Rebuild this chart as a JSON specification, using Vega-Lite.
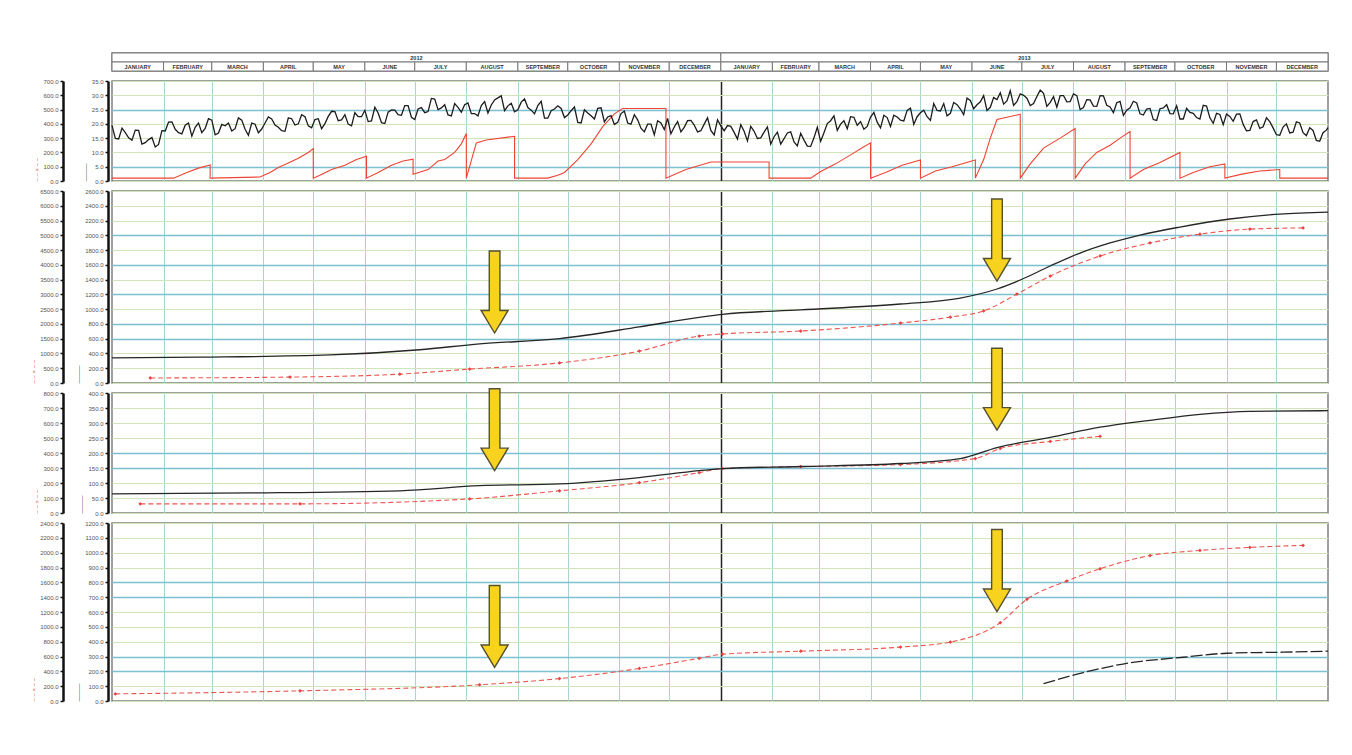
{
 "$schema": "https://vega.github.io/schema/vega-lite/v6.json",
 "padding": {"left": 29, "top": 51, "right": 5, "bottom": 5},
 "background": "white",
 "spacing": 10,
 "bounds": "flush",
 "config": {
  "view": {"stroke": "#808080", "strokeWidth": 1.5},
  "axis": {"labelFont": "Liberation Sans", "titleFont": "Liberation Sans", "labelFontSize": 6, "labelColor": "#555555", "tickColor": "#111111", "tickSize": 3, "tickWidth": 1.5, "domainColor": "#111111", "domainWidth": 2.5, "labelPadding": 2, "titleFontSize": 6, "titleFontWeight": "normal"}
 },
 "datasets": {
  "hdr": [
   {"r": "y", "lab": "2012", "s": 0, "e": 366}, {"r": "y", "lab": "2013", "s": 366, "e": 731},
   {"r": "m", "lab": "JANUARY", "s": 0, "e": 31}, {"r": "m", "lab": "FEBRUARY", "s": 31, "e": 60}, {"r": "m", "lab": "MARCH", "s": 60, "e": 91}, {"r": "m", "lab": "APRIL", "s": 91, "e": 121}, {"r": "m", "lab": "MAY", "s": 121, "e": 152}, {"r": "m", "lab": "JUNE", "s": 152, "e": 182}, {"r": "m", "lab": "JULY", "s": 182, "e": 213}, {"r": "m", "lab": "AUGUST", "s": 213, "e": 244}, {"r": "m", "lab": "SEPTEMBER", "s": 244, "e": 274}, {"r": "m", "lab": "OCTOBER", "s": 274, "e": 305}, {"r": "m", "lab": "NOVEMBER", "s": 305, "e": 335}, {"r": "m", "lab": "DECEMBER", "s": 335, "e": 366},
   {"r": "m", "lab": "JANUARY", "s": 366, "e": 397}, {"r": "m", "lab": "FEBRUARY", "s": 397, "e": 425}, {"r": "m", "lab": "MARCH", "s": 425, "e": 456}, {"r": "m", "lab": "APRIL", "s": 456, "e": 486}, {"r": "m", "lab": "MAY", "s": 486, "e": 517}, {"r": "m", "lab": "JUNE", "s": 517, "e": 547}, {"r": "m", "lab": "JULY", "s": 547, "e": 578}, {"r": "m", "lab": "AUGUST", "s": 578, "e": 609}, {"r": "m", "lab": "SEPTEMBER", "s": 609, "e": 639}, {"r": "m", "lab": "OCTOBER", "s": 639, "e": 670}, {"r": "m", "lab": "NOVEMBER", "s": 670, "e": 700}, {"r": "m", "lab": "DECEMBER", "s": 700, "e": 731}
  ],
  "temp": [
   {"d":0,"v":19.5},{"d":2,"v":14.9},{"d":4,"v":14.7},{"d":6,"v":18.5},{"d":8,"v":16.9},{"d":10,"v":15.1},{"d":12,"v":14.3},{"d":14,"v":17.8},{"d":16,"v":17.7},{"d":18,"v":12.9},{"d":20,"v":13.4},{"d":22,"v":14.5},{"d":24,"v":15.2},{"d":26,"v":11.9},{"d":28,"v":12.8},{"d":30,"v":17.6},{"d":32,"v":17.5},{"d":34,"v":20.6},{"d":36,"v":20.7},{"d":38,"v":18.1},{"d":40,"v":16.9},{"d":42,"v":16.5},{"d":44,"v":19.5},{"d":46,"v":20.3},{"d":48,"v":15.7},{"d":50,"v":18.8},{"d":52,"v":20.3},{"d":54,"v":16.9},{"d":56,"v":18.4},{"d":58,"v":21.8},{"d":60,"v":21.3},{"d":62,"v":16.2},{"d":64,"v":16.8},{"d":66,"v":19.8},{"d":68,"v":19.3},{"d":70,"v":20.3},{"d":72,"v":17.5},{"d":74,"v":18.3},{"d":76,"v":22.1},{"d":78,"v":21.3},{"d":80,"v":18.1},{"d":82,"v":16.0},{"d":84,"v":20.3},{"d":86,"v":19.9},{"d":88,"v":16.9},{"d":90,"v":18.2},{"d":92,"v":20.3},{"d":94,"v":22.4},{"d":96,"v":21.7},{"d":98,"v":19.6},{"d":100,"v":18.8},{"d":102,"v":17.6},{"d":104,"v":17.4},{"d":106,"v":22.1},{"d":108,"v":21.8},{"d":110,"v":19.6},{"d":112,"v":20.0},{"d":114,"v":23.2},{"d":116,"v":22.5},{"d":118,"v":19.3},{"d":120,"v":18.6},{"d":122,"v":21.5},{"d":124,"v":21.8},{"d":126,"v":18.3},{"d":128,"v":20.1},{"d":130,"v":22.6},{"d":132,"v":24.4},{"d":134,"v":24.3},{"d":136,"v":21.1},{"d":138,"v":21.4},{"d":140,"v":23.2},{"d":142,"v":19.9},{"d":144,"v":19.3},{"d":146,"v":23.9},{"d":148,"v":22.5},{"d":150,"v":22.5},{"d":152,"v":24.7},{"d":154,"v":20.8},{"d":156,"v":21.0},{"d":158,"v":25.8},{"d":160,"v":23.8},{"d":162,"v":20.4},{"d":164,"v":20.1},{"d":166,"v":24.1},{"d":168,"v":24.9},{"d":170,"v":24.8},{"d":172,"v":23.2},{"d":174,"v":23.0},{"d":176,"v":26.4},{"d":178,"v":26.4},{"d":180,"v":22.3},{"d":182,"v":21.5},{"d":184,"v":25.2},{"d":186,"v":25.7},{"d":188,"v":23.9},{"d":190,"v":24.3},{"d":192,"v":28.9},{"d":194,"v":28.7},{"d":196,"v":25.0},{"d":198,"v":25.6},{"d":200,"v":26.7},{"d":202,"v":23.1},{"d":204,"v":22.8},{"d":206,"v":27.1},{"d":208,"v":25.8},{"d":210,"v":24.1},{"d":212,"v":26.7},{"d":214,"v":27.3},{"d":216,"v":23.6},{"d":218,"v":23.6},{"d":220,"v":22.8},{"d":222,"v":26.4},{"d":224,"v":27.8},{"d":226,"v":23.8},{"d":228,"v":26.6},{"d":230,"v":28.4},{"d":232,"v":29.1},{"d":234,"v":29.8},{"d":236,"v":24.6},{"d":238,"v":26.3},{"d":240,"v":27.2},{"d":242,"v":24.2},{"d":244,"v":24.9},{"d":246,"v":27.6},{"d":248,"v":28.7},{"d":250,"v":25.7},{"d":252,"v":24.8},{"d":254,"v":23.5},{"d":256,"v":26.4},{"d":258,"v":27.9},{"d":260,"v":22.0},{"d":262,"v":22.0},{"d":264,"v":24.6},{"d":266,"v":25.2},{"d":268,"v":26.3},{"d":270,"v":25.4},{"d":272,"v":22.2},{"d":274,"v":23.1},{"d":276,"v":24.6},{"d":278,"v":25.9},{"d":280,"v":20.5},{"d":282,"v":20.3},{"d":284,"v":24.9},{"d":286,"v":23.8},{"d":288,"v":22.8},{"d":290,"v":21.7},{"d":292,"v":25.4},{"d":294,"v":25.6},{"d":296,"v":20.7},{"d":298,"v":22.4},{"d":300,"v":22.9},{"d":302,"v":19.8},{"d":304,"v":20.5},{"d":306,"v":23.6},{"d":308,"v":24.5},{"d":310,"v":20.3},{"d":312,"v":19.9},{"d":314,"v":23.2},{"d":316,"v":21.4},{"d":318,"v":18.5},{"d":320,"v":17.2},{"d":322,"v":19.9},{"d":324,"v":19.9},{"d":326,"v":16.2},{"d":328,"v":21.1},{"d":330,"v":20.3},{"d":332,"v":18.0},{"d":334,"v":21.9},{"d":336,"v":16.5},{"d":338,"v":18.9},{"d":340,"v":20.8},{"d":342,"v":17.2},{"d":344,"v":18.8},{"d":346,"v":21.1},{"d":348,"v":21.2},{"d":350,"v":19.6},{"d":352,"v":17.2},{"d":354,"v":17.6},{"d":356,"v":19.9},{"d":358,"v":22.1},{"d":360,"v":17.7},{"d":362,"v":16.1},{"d":364,"v":21.4},{"d":366,"v":19.3},{"d":368,"v":17.6},{"d":370,"v":19.4},{"d":372,"v":19.1},{"d":374,"v":17.0},{"d":376,"v":14.7},{"d":378,"v":19.7},{"d":380,"v":17.4},{"d":382,"v":14.0},{"d":384,"v":19.1},{"d":386,"v":17.4},{"d":388,"v":14.9},{"d":390,"v":15.1},{"d":392,"v":17.1},{"d":394,"v":18.9},{"d":396,"v":12.9},{"d":398,"v":15.5},{"d":400,"v":17.1},{"d":402,"v":12.9},{"d":404,"v":14.8},{"d":406,"v":16.8},{"d":408,"v":17.2},{"d":410,"v":13.7},{"d":412,"v":12.3},{"d":414,"v":16.7},{"d":416,"v":14.3},{"d":418,"v":12.2},{"d":420,"v":12.1},{"d":422,"v":15.1},{"d":424,"v":18.8},{"d":426,"v":13.9},{"d":428,"v":16.9},{"d":430,"v":20.1},{"d":432,"v":21.1},{"d":434,"v":22.8},{"d":436,"v":17.7},{"d":438,"v":19.9},{"d":440,"v":21.1},{"d":442,"v":18.3},{"d":444,"v":22.5},{"d":446,"v":22.3},{"d":448,"v":19.5},{"d":450,"v":20.8},{"d":452,"v":18.1},{"d":454,"v":19.1},{"d":456,"v":22.4},{"d":458,"v":24.0},{"d":460,"v":20.6},{"d":462,"v":18.6},{"d":464,"v":23.0},{"d":466,"v":22.2},{"d":468,"v":19.1},{"d":470,"v":23.0},{"d":472,"v":22.4},{"d":474,"v":21.3},{"d":476,"v":21.0},{"d":478,"v":24.7},{"d":480,"v":25.5},{"d":482,"v":19.8},{"d":484,"v":22.5},{"d":486,"v":23.9},{"d":488,"v":24.8},{"d":490,"v":22.5},{"d":492,"v":21.2},{"d":494,"v":27.1},{"d":496,"v":24.7},{"d":498,"v":24.5},{"d":500,"v":27.1},{"d":502,"v":22.8},{"d":504,"v":23.7},{"d":506,"v":27.5},{"d":508,"v":26.7},{"d":510,"v":25.2},{"d":512,"v":23.2},{"d":514,"v":29.0},{"d":516,"v":28.2},{"d":518,"v":25.3},{"d":520,"v":26.7},{"d":522,"v":27.7},{"d":524,"v":29.9},{"d":526,"v":24.7},{"d":528,"v":25.8},{"d":530,"v":29.2},{"d":532,"v":28.5},{"d":534,"v":30.9},{"d":536,"v":26.9},{"d":538,"v":28.0},{"d":540,"v":31.6},{"d":542,"v":26.5},{"d":544,"v":27.8},{"d":546,"v":30.5},{"d":548,"v":30.0},{"d":550,"v":29.0},{"d":552,"v":26.4},{"d":554,"v":27.1},{"d":556,"v":29.6},{"d":558,"v":31.8},{"d":560,"v":30.7},{"d":562,"v":26.1},{"d":564,"v":27.5},{"d":566,"v":29.5},{"d":568,"v":25.8},{"d":570,"v":29.9},{"d":572,"v":29.9},{"d":574,"v":27.7},{"d":576,"v":27.8},{"d":578,"v":30.5},{"d":580,"v":29.9},{"d":582,"v":25.0},{"d":584,"v":25.7},{"d":586,"v":28.5},{"d":588,"v":28.4},{"d":590,"v":26.2},{"d":592,"v":26.1},{"d":594,"v":29.9},{"d":596,"v":29.8},{"d":598,"v":26.5},{"d":600,"v":25.9},{"d":602,"v":23.9},{"d":604,"v":27.4},{"d":606,"v":27.9},{"d":608,"v":23.0},{"d":610,"v":24.8},{"d":612,"v":25.6},{"d":614,"v":27.9},{"d":616,"v":27.3},{"d":618,"v":23.5},{"d":620,"v":23.1},{"d":622,"v":25.2},{"d":624,"v":25.4},{"d":626,"v":21.5},{"d":628,"v":21.2},{"d":630,"v":25.3},{"d":632,"v":25.6},{"d":634,"v":26.7},{"d":636,"v":23.6},{"d":638,"v":23.5},{"d":640,"v":26.3},{"d":642,"v":21.7},{"d":644,"v":21.7},{"d":646,"v":25.4},{"d":648,"v":24.0},{"d":650,"v":23.7},{"d":652,"v":22.2},{"d":654,"v":21.7},{"d":656,"v":26.5},{"d":658,"v":26.2},{"d":660,"v":22.1},{"d":662,"v":20.2},{"d":664,"v":23.7},{"d":666,"v":23.3},{"d":668,"v":19.7},{"d":670,"v":23.4},{"d":672,"v":22.6},{"d":674,"v":20.9},{"d":676,"v":23.4},{"d":678,"v":23.5},{"d":680,"v":19.8},{"d":682,"v":17.6},{"d":684,"v":17.7},{"d":686,"v":20.8},{"d":688,"v":21.4},{"d":690,"v":18.4},{"d":692,"v":19.0},{"d":694,"v":22.1},{"d":696,"v":20.8},{"d":698,"v":18.6},{"d":700,"v":16.2},{"d":702,"v":16.0},{"d":704,"v":18.9},{"d":706,"v":20.0},{"d":708,"v":16.8},{"d":710,"v":17.1},{"d":712,"v":20.7},{"d":714,"v":20.3},{"d":716,"v":16.9},{"d":718,"v":15.9},{"d":720,"v":18.6},{"d":722,"v":17.7},{"d":724,"v":14.2},{"d":726,"v":13.9},{"d":728,"v":16.9},{"d":730,"v":17.8},{"d":731,"v":18.7}
  ],
  "saw": [
   {"i":1,"d":0,"v":20},{"i":2,"d":37,"v":20},{"i":3,"d":45,"v":60},{"i":4,"d":52,"v":90},{"i":5,"d":59,"v":113},{"i":6,"d":59,"v":20},{"i":7,"d":89,"v":28},{"i":8,"d":95,"v":60},{"i":9,"d":100,"v":95},{"i":10,"d":105,"v":120},{"i":11,"d":112,"v":160},{"i":12,"d":118,"v":200},{"i":13,"d":121,"v":227},{"i":14,"d":121,"v":20},{"i":15,"d":125,"v":40},{"i":16,"d":132,"v":80},{"i":17,"d":140,"v":110},{"i":18,"d":147,"v":150},{"i":19,"d":153,"v":173},{"i":20,"d":153,"v":20},{"i":21,"d":160,"v":60},{"i":22,"d":168,"v":110},{"i":23,"d":175,"v":140},{"i":24,"d":181,"v":153},{"i":25,"d":181,"v":47},{"i":26,"d":190,"v":80},{"i":27,"d":196,"v":140},{"i":28,"d":200,"v":150},{"i":29,"d":206,"v":200},{"i":30,"d":210,"v":260},{"i":31,"d":213,"v":333},{"i":32,"d":213,"v":20},{"i":33,"d":219,"v":267},{"i":34,"d":225,"v":287},{"i":35,"d":242,"v":313},{"i":36,"d":242,"v":20},{"i":37,"d":262,"v":20},{"i":38,"d":268,"v":40},{"i":39,"d":272,"v":60},{"i":40,"d":280,"v":150},{"i":41,"d":288,"v":260},{"i":42,"d":295,"v":380},{"i":43,"d":302,"v":470},{"i":44,"d":307,"v":507},{"i":45,"d":333,"v":507},{"i":46,"d":333,"v":20},{"i":47,"d":345,"v":80},{"i":48,"d":360,"v":133},{"i":49,"d":395,"v":133},{"i":50,"d":395,"v":20},{"i":51,"d":420,"v":20},{"i":52,"d":426,"v":67},{"i":53,"d":435,"v":120},{"i":54,"d":445,"v":190},{"i":55,"d":452,"v":240},{"i":56,"d":456,"v":267},{"i":57,"d":456,"v":20},{"i":58,"d":465,"v":60},{"i":59,"d":475,"v":110},{"i":60,"d":486,"v":147},{"i":61,"d":486,"v":20},{"i":62,"d":495,"v":70},{"i":63,"d":505,"v":100},{"i":64,"d":519,"v":147},{"i":65,"d":519,"v":20},{"i":66,"d":524,"v":150},{"i":67,"d":528,"v":300},{"i":68,"d":532,"v":430},{"i":69,"d":546,"v":467},{"i":70,"d":546,"v":20},{"i":71,"d":552,"v":120},{"i":72,"d":560,"v":230},{"i":73,"d":570,"v":300},{"i":74,"d":579,"v":367},{"i":75,"d":579,"v":20},{"i":76,"d":585,"v":120},{"i":77,"d":592,"v":200},{"i":78,"d":600,"v":250},{"i":79,"d":606,"v":300},{"i":80,"d":612,"v":347},{"i":81,"d":612,"v":20},{"i":82,"d":620,"v":80},{"i":83,"d":630,"v":130},{"i":84,"d":642,"v":200},{"i":85,"d":642,"v":20},{"i":86,"d":650,"v":60},{"i":87,"d":660,"v":100},{"i":88,"d":669,"v":120},{"i":89,"d":669,"v":20},{"i":90,"d":680,"v":50},{"i":91,"d":690,"v":70},{"i":92,"d":702,"v":80},{"i":93,"d":702,"v":20},{"i":94,"d":731,"v":20}
  ],
  "p2k": [{"d":0,"v":340},{"d":53,"v":350},{"d":131,"v":380},{"d":185,"v":450},{"d":221,"v":530},{"d":269,"v":600},{"d":317,"v":760},{"d":353,"v":890},{"d":367,"v":930},{"d":414,"v":990},{"d":474,"v":1070},{"d":510,"v":1150},{"d":532,"v":1273},{"d":546,"v":1395},{"d":564,"v":1584},{"d":582,"v":1760},{"d":600,"v":1896},{"d":618,"v":2004},{"d":642,"v":2112},{"d":672,"v":2221},{"d":702,"v":2288},{"d":731,"v":2315}],
  "p2r": [{"d":23,"v":170},{"d":107,"v":200},{"d":173,"v":300},{"d":215,"v":470},{"d":269,"v":680},{"d":317,"v":1080},{"d":353,"v":1590},{"d":367,"v":1660},{"d":414,"v":1760},{"d":474,"v":2030},{"d":504,"v":2230},{"d":524,"v":2440},{"d":544,"v":3010},{"d":564,"v":3620},{"d":594,"v":4300},{"d":624,"v":4740},{"d":654,"v":5040},{"d":684,"v":5210},{"d":716,"v":5250}],
  "p3k": [{"d":0,"v":64},{"d":83,"v":67},{"d":173,"v":74},{"d":221,"v":91},{"d":269,"v":97},{"d":317,"v":118},{"d":353,"v":141},{"d":367,"v":148},{"d":414,"v":155},{"d":474,"v":165},{"d":510,"v":181},{"d":532,"v":218},{"d":564,"v":252},{"d":594,"v":286},{"d":624,"v":309},{"d":654,"v":329},{"d":684,"v":339},{"d":731,"v":341}],
  "p3r": [{"d":17,"v":61},{"d":113,"v":61},{"d":215,"v":94},{"d":269,"v":148},{"d":317,"v":202},{"d":353,"v":269},{"d":367,"v":296},{"d":414,"v":309},{"d":474,"v":323},{"d":519,"v":363},{"d":534,"v":430},{"d":564,"v":477},{"d":594,"v":511}],
  "p4k": [{"d":560,"v":117},{"d":584,"v":192},{"d":610,"v":254},{"d":644,"v":295},{"d":670,"v":322},{"d":704,"v":329},{"d":731,"v":336}],
  "p4r": [{"d":2,"v":96},{"d":113,"v":137},{"d":221,"v":219},{"d":269,"v":302},{"d":317,"v":439},{"d":353,"v":576},{"d":367,"v":631},{"d":414,"v":672},{"d":474,"v":727},{"d":504,"v":795},{"d":534,"v":1056},{"d":550,"v":1371},{"d":574,"v":1618},{"d":594,"v":1783},{"d":624,"v":1961},{"d":654,"v":2030},{"d":684,"v":2071},{"d":716,"v":2098}],
  "arrows": [{"p":2,"d":230,"v":677},{"p":2,"d":532,"v":1381},{"p":3,"d":230,"v":141},{"p":3,"d":532,"v":276},{"p":4,"d":230,"v":226},{"p":4,"d":532,"v":603}]
 },
 "vconcat": [
  {
   "width": 1216, "height": 18,
   "data": {"name": "hdr"},
   "encoding": {
    "x": {"field": "s", "type": "quantitative", "scale": {"domain": [0, 731], "nice": false, "zero": false}, "axis": null},
    "y": {"field": "r", "type": "ordinal", "scale": {"domain": ["y", "m"], "paddingInner": 0, "paddingOuter": 0}, "axis": null}
   },
   "layer": [
    {"mark": {"type": "rect", "fill": "#ffffff", "stroke": "#777777", "strokeWidth": 1}, "encoding": {"x2": {"field": "e"}}},
    {"transform": [{"calculate": "(datum.s + datum.e) / 2", "as": "mid"}], "mark": {"type": "text", "fontSize": 5.5, "fontWeight": "bold", "font": "Liberation Sans", "color": "#333333"}, "encoding": {"x": {"field": "mid", "type": "quantitative"}, "text": {"field": "lab"}}}
   ]
  },
  {
   "width": 1216, "height": 100,
   "encoding": {"x": {"field": "d", "type": "quantitative", "scale": {"domain": [0, 731], "nice": false, "zero": false}, "axis": {"values": [31,60,91,121,152,182,213,244,274,305,335,366,397,425,456,486,517,547,578,609,639,670,700], "labels": false, "ticks": false, "domain": false, "title": null, "grid": true, "gridColor": {"condition": {"test": "datum.value == 366", "value": "#222222"}, "value": "#a9d5cf"}, "gridWidth": {"condition": {"test": "datum.value == 366", "value": 1.5}, "value": 1}}}},
   "layer": [
    {"data": {"name": "saw"}, "mark": {"type": "line", "color": "#ee4433", "strokeWidth": 1.1}, "encoding": {"y": {"field": "v", "type": "quantitative", "scale": {"domain": [0, 700], "nice": false}, "axis": {"orient": "left", "offset": 49, "values": [0,100,200,300,400,500,600,700], "format": ".1f", "grid": false, "title": "– – × – –", "titleColor": "#e04040", "titleAnchor": "start", "titlePadding": 3}}, "order": {"field": "i", "type": "quantitative"}}},
    {"data": {"name": "temp"}, "mark": {"type": "line", "color": "#1c1c1c", "strokeWidth": 1.3}, "encoding": {"y": {"field": "v", "type": "quantitative", "scale": {"domain": [0, 35], "nice": false}, "axis": {"orient": "left", "offset": 4, "values": [0,5,10,15,20,25,30,35], "format": ".1f", "grid": true, "gridColor": {"condition": {"test": "datum.value == 5 || datum.value == 25", "value": "#7cc0d2"}, "value": "#cfe5b9"}, "gridWidth": {"condition": {"test": "datum.value == 5 || datum.value == 25", "value": 1.6}, "value": 1}, "title": "———", "titleColor": "#222222", "titleAnchor": "start", "titlePadding": 3}}}}
   ],
   "resolve": {"scale": {"y": "independent"}}
  },
  {
   "width": 1216, "height": 192,
   "encoding": {"x": {"field": "d", "type": "quantitative", "scale": {"domain": [0, 731], "nice": false, "zero": false}, "axis": {"values": [31,60,91,121,152,182,213,244,274,305,335,366,397,425,456,486,517,547,578,609,639,670,700], "labels": false, "ticks": false, "domain": false, "title": null, "grid": true, "gridColor": {"condition": {"test": "datum.value == 366", "value": "#222222"}, "value": "#a9d5cf"}, "gridWidth": {"condition": {"test": "datum.value == 366", "value": 1.5}, "value": 1}}}},
   "layer": [
    {"data": {"name": "p2r"}, "mark": {"type": "line", "color": "#ee5550", "strokeWidth": 1.1, "strokeDash": [5, 3], "interpolate": "monotone", "point": {"shape": "diamond", "size": 14, "filled": true, "color": "#e84444"}}, "encoding": {"y": {"field": "v", "type": "quantitative", "scale": {"domain": [0, 6500], "nice": false}, "axis": {"orient": "left", "offset": 49, "values": [0,500,1000,1500,2000,2500,3000,3500,4000,4500,5000,5500,6000,6500], "format": ".1f", "grid": false, "title": "– – × – –", "titleColor": "#e04040", "titleAnchor": "start", "titlePadding": 3}}}},
    {
     "encoding": {"y": {"field": "v", "type": "quantitative", "scale": {"domain": [0, 2600], "nice": false}, "axis": {"orient": "left", "offset": 4, "values": [0,200,400,600,800,1000,1200,1400,1600,1800,2000,2200,2400,2600], "format": ".1f", "grid": true, "gridColor": {"condition": {"test": "indexof([600,800,1200,1600,2000], datum.value) >= 0", "value": "#7cc0d2"}, "value": "#cfe5b9"}, "gridWidth": {"condition": {"test": "indexof([600,800,1200,1600,2000], datum.value) >= 0", "value": 1.6}, "value": 1}, "title": "———", "titleColor": "#222222", "titleAnchor": "start", "titlePadding": 3}}},
     "layer": [
      {"data": {"name": "p2k"}, "mark": {"type": "line", "color": "#262626", "strokeWidth": 1.3, "interpolate": "monotone"}},
      {"data": {"name": "arrows"}, "transform": [{"filter": "datum.p == 2"}], "mark": {"type": "point", "shape": "M-0.13,-2L0.13,-2L0.13,-0.55L0.33,-0.55L0,0L-0.33,-0.55L-0.13,-0.55Z", "size": 6724, "filled": true, "fill": "#f7d31f", "stroke": "#55502e", "strokeWidth": 1.4, "opacity": 1}}
     ]
    }
   ],
   "resolve": {"scale": {"y": "independent"}}
  },
  {
   "width": 1216, "height": 120,
   "encoding": {"x": {"field": "d", "type": "quantitative", "scale": {"domain": [0, 731], "nice": false, "zero": false}, "axis": {"values": [31,60,91,121,152,182,213,244,274,305,335,366,397,425,456,486,517,547,578,609,639,670,700], "labels": false, "ticks": false, "domain": false, "title": null, "grid": true, "gridColor": {"condition": {"test": "datum.value == 366", "value": "#222222"}, "value": "#a9d5cf"}, "gridWidth": {"condition": {"test": "datum.value == 366", "value": 1.5}, "value": 1}}}},
   "layer": [
    {"data": {"name": "p3r"}, "mark": {"type": "line", "color": "#ee5550", "strokeWidth": 1.1, "strokeDash": [5, 3], "interpolate": "monotone", "point": {"shape": "diamond", "size": 14, "filled": true, "color": "#e84444"}}, "encoding": {"y": {"field": "v", "type": "quantitative", "scale": {"domain": [0, 800], "nice": false}, "axis": {"orient": "left", "offset": 49, "values": [0,100,200,300,400,500,600,700,800], "format": ".1f", "grid": false, "title": "– – × – –", "titleColor": "#e04040", "titleAnchor": "start", "titlePadding": 3}}}},
    {
     "encoding": {"y": {"field": "v", "type": "quantitative", "scale": {"domain": [0, 400], "nice": false}, "axis": {"orient": "left", "offset": 4, "values": [0,50,100,150,200,250,300,350,400], "format": ".1f", "grid": true, "gridColor": {"condition": {"test": "datum.value == 150 || datum.value == 200", "value": "#7cc0d2"}, "value": "#cfe5b9"}, "gridWidth": {"condition": {"test": "datum.value == 150 || datum.value == 200", "value": 1.6}, "value": 1}, "title": "———", "titleColor": "#222222", "titleAnchor": "start", "titlePadding": 3}}},
     "layer": [
      {"data": {"name": "p3k"}, "mark": {"type": "line", "color": "#262626", "strokeWidth": 1.3, "interpolate": "monotone"}},
      {"data": {"name": "arrows"}, "transform": [{"filter": "datum.p == 3"}], "mark": {"type": "point", "shape": "M-0.13,-2L0.13,-2L0.13,-0.55L0.33,-0.55L0,0L-0.33,-0.55L-0.13,-0.55Z", "size": 6724, "filled": true, "fill": "#f7d31f", "stroke": "#55502e", "strokeWidth": 1.4, "opacity": 1}}
     ]
    }
   ],
   "resolve": {"scale": {"y": "independent"}}
  },
  {
   "width": 1216, "height": 178,
   "encoding": {"x": {"field": "d", "type": "quantitative", "scale": {"domain": [0, 731], "nice": false, "zero": false}, "axis": {"values": [31,60,91,121,152,182,213,244,274,305,335,366,397,425,456,486,517,547,578,609,639,670,700], "labels": false, "ticks": false, "domain": false, "title": null, "grid": true, "gridColor": {"condition": {"test": "datum.value == 366", "value": "#222222"}, "value": "#a9d5cf"}, "gridWidth": {"condition": {"test": "datum.value == 366", "value": 1.5}, "value": 1}}}},
   "layer": [
    {"data": {"name": "p4r"}, "mark": {"type": "line", "color": "#ee5550", "strokeWidth": 1.1, "strokeDash": [5, 3], "interpolate": "monotone", "point": {"shape": "diamond", "size": 14, "filled": true, "color": "#e84444"}}, "encoding": {"y": {"field": "v", "type": "quantitative", "scale": {"domain": [0, 2400], "nice": false}, "axis": {"orient": "left", "offset": 49, "values": [0,200,400,600,800,1000,1200,1400,1600,1800,2000,2200,2400], "format": ".1f", "grid": false, "title": "– – × – –", "titleColor": "#e04040", "titleAnchor": "start", "titlePadding": 3}}}},
    {
     "encoding": {"y": {"field": "v", "type": "quantitative", "scale": {"domain": [0, 1200], "nice": false}, "axis": {"orient": "left", "offset": 4, "values": [0,100,200,300,400,500,600,700,800,900,1000,1100,1200], "format": ".1f", "grid": true, "gridColor": {"condition": {"test": "indexof([200,300,700,800], datum.value) >= 0", "value": "#7cc0d2"}, "value": "#cfe5b9"}, "gridWidth": {"condition": {"test": "indexof([200,300,700,800], datum.value) >= 0", "value": 1.6}, "value": 1}, "title": "———", "titleColor": "#222222", "titleAnchor": "start", "titlePadding": 3}}},
     "layer": [
      {"data": {"name": "p4k"}, "mark": {"type": "line", "color": "#262626", "strokeWidth": 1.3, "strokeDash": [12, 3], "interpolate": "monotone"}},
      {"data": {"name": "arrows"}, "transform": [{"filter": "datum.p == 4"}], "mark": {"type": "point", "shape": "M-0.13,-2L0.13,-2L0.13,-0.55L0.33,-0.55L0,0L-0.33,-0.55L-0.13,-0.55Z", "size": 6724, "filled": true, "fill": "#f7d31f", "stroke": "#55502e", "strokeWidth": 1.4, "opacity": 1}}
     ]
    }
   ],
   "resolve": {"scale": {"y": "independent"}}
  }
 ]
}
